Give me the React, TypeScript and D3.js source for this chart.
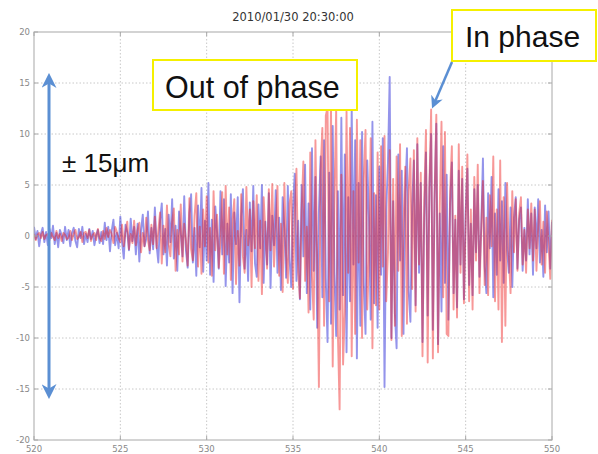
import React from 'react';
import * as d3 from 'd3';

// time axis: samples start at 520 s, one every 0.1 s
const startTime = 520;
const sampleStep = 0.1;

// channel 1 (blue) in 1 s rows
const blueValues = [
  0.9, -0.3, 0.5, -1.0, 0.2, 0.8, -0.6, 0.4, -0.9, 0.7,
  -0.2, 1.0, -0.8, 0.3, -1.1, 0.6, 0.1, -0.7, 0.9, -0.4,
  0.6, -1.0, 0.3, 0.8, -0.5, -1.1, 0.7, -0.2, 0.9, -0.8,
  0.2, -0.6, 0.7, -0.3, 0.5, -0.9, 0.1, 0.6, -0.7, 0.4,
  -0.8, 1.3, -0.4, 0.9, -1.5, 0.5, 1.6, -0.9, 0.3, -1.2,
  1.9, -0.6, -2.2, 1.1, 0.4, -1.4, 1.7, -0.5, 0.9, -1.8,
  1.2, -2.5, 0.6, 2.1, -1.0, -0.3, 2.4, -1.7, 0.8, -1.3,
  2.8, -0.9, -2.6, 1.5, 3.2, -1.8, 0.7, -2.9, 2.1, -0.6,
  3.6, -2.2, 1.0, -3.4, 2.4, 0.3, -2.0, 3.9, -1.4, -3.1,
  2.2, 4.1, -2.6, 0.8, -3.9, 3.0, -1.1, 4.7, -3.5, 1.5,
  -2.4, 5.2, -3.8, 1.6, -4.5, 2.9, 0.4, -3.2, 4.4, -1.8,
  3.6, -4.9, 1.2, -2.6, 4.1, -5.6, 2.3, -0.8, 3.8, -6.5,
  1.9, 4.6, -3.2, 0.6, -4.4, 3.3, -1.5, 4.9, -2.7, -4.0,
  3.1, -1.2, 5.0, -4.6, 1.4, -2.8, 4.2, -5.1, 2.0, -0.9,
  4.5, -3.6, 1.8, -5.3, 3.8, 0.7, -4.1, 4.9, -2.3, -5.0,
  2.6, 6.1, -4.4, 1.5, -6.2, 5.0, -2.0, 7.0, -5.6, 3.2,
  -7.2, 8.6, -3.4, 5.8, -9.0, 2.4, 7.8, -6.0, 9.4, -4.2,
  -10.4, 6.2, -8.6, 10.8, -3.6, -9.8, 4.4, -7.2, 11.6, -5.8,
  8.0, -11.4, 3.8, -6.4, 12.6, -2.8, 9.4, -12.0, 5.2, -8.8,
  10.2, -4.6, -9.6, 7.4, 1.8, -8.2, 11.2, -6.6, 4.0, -9.0,
  6.8, -3.8, 9.6, -14.8, 2.6, 7.2, 15.6, -10.0, 3.4, -7.6,
  -11.0, 8.0, -2.4, 6.4, -9.6, 4.2, 8.6, -5.4, -8.4, 2.8,
  7.4, -6.8, 9.0, -3.6, 5.2, -10.4, 1.8, 8.2, -7.8, 4.6,
  10.0, -9.2, 3.6, 11.0, -10.6, 2.2, -7.4, 8.8, -4.6, 6.0,
  -8.2, 3.2, 7.2, -5.6, 1.6, -7.0, 6.4, -2.8, 5.6, -6.2,
  2.4, 6.6, -4.8, 1.2, -5.8, 4.6, -1.6, 5.0, -4.0, 0.8,
  7.6, -3.0, -5.6, 4.2, -1.2, 5.8, -6.0, 2.2, -3.8, 4.6,
  -2.4, 3.4, -4.6, 5.2, -1.4, -3.6, 2.8, -5.0, 1.8, 3.8,
  -3.2, 1.6, 2.8, -3.4, 0.8, -2.4, 3.6, -1.8, 2.2, -3.8,
  2.8, -1.2, 3.6, -2.6, 0.6, -4.0, 3.0, -1.6, 2.4, -3.2,
  1.4,
];

// channel 2 (red)
const redValues = [
  0.2, -0.4, 0.1, 0.3, -0.2, 0.4, -0.3, 0.1, 0.2, -0.4,
  0.3, -0.1, -0.4, 0.5, -0.2, 0.2, -0.5, 0.3, 0.1, -0.3,
  -0.2, 0.5, -0.4, 0.2, 0.6, -0.3, -0.1, 0.4, -0.6, 0.3,
  0.4, -0.2, 0.6, -0.5, 0.1, 0.3, -0.4, 0.7, -0.2, -0.5,
  0.5, -0.3, 0.8, -0.1, 0.6, 0.2, -0.7, 0.9, 0.4, -0.2,
  -0.6, 1.1, -1.0, 0.4, 1.4, -1.3, 0.2, -0.7, 1.5, -0.9,
  0.6, 1.3, -1.6, 0.3, -1.0, 1.8, -0.4, -1.4, 1.1, -0.8,
  1.9, -1.2, 0.5, 2.3, -2.7, 1.0, -1.6, 3.0, -0.8, -2.0,
  1.4, 2.7, -3.4, 0.6, -1.8, 3.1, -2.5, 1.2, -0.4, -2.9,
  3.7, -1.3, -2.4, 2.0, 4.2, -3.0, 0.9, -3.7, 2.6, -1.0,
  3.9, -2.6, 0.8, -3.9, 4.4, -1.4, 2.1, -3.1, -0.6, 4.3,
  -3.7, 4.9, -1.8, 2.8, -4.3, 1.6, 3.6, -4.7, 0.5, -2.9,
  4.1, -2.0, -3.6, 4.8, -0.9, 2.6, -5.0, 3.4, -1.2, 4.0,
  -4.4, 1.5, -5.7, 3.8, 0.4, -3.2, 4.6, -1.4, 5.1, -3.0,
  0.8, 4.9, -3.9, 1.2, -5.5, 5.2, -1.8, -4.6, 3.2, 4.4,
  -5.2, 1.8, 6.6, -3.6, -6.1, 2.6, 7.3, -4.4, 0.9, -7.5,
  8.2, -4.0, -8.2, 9.4, -2.2, -14.8, 6.4, 10.6, -8.8, 11.8,
  12.6, -6.4, 13.4, -12.8, 4.0, 12.4, -9.6, -17.0, 6.0, -12.6,
  -7.4, 12.2, -3.6, 10.6, -11.8, 4.4, -9.6, 11.4, -2.6, 9.4,
  -10.0, 5.6, 10.4, -7.2, -2.4, 9.6, -11.0, 4.2, -6.8, 8.2,
  -7.2, 8.8, -3.0, 9.8, -6.4, -1.6, 8.4, -10.2, 5.6, -8.8,
  7.8, -3.4, 9.0, -9.8, 1.2, 6.8, -8.6, 4.4, 7.6, -5.2,
  8.4, -7.4, 9.6, -2.8, 6.2, -11.8, 3.4, 10.4, -12.4, 5.0,
  12.4, -12.0, 4.0, 11.9, -11.4, 2.8, 11.2, -6.0, 10.2, -9.6,
  -9.8, 4.4, 8.8, -7.2, 2.0, -8.0, 9.0, -3.6, 6.8, -6.6,
  1.2, 8.0, -6.4, 2.6, -7.2, 5.8, -2.4, 7.0, -5.6, 0.6,
  5.4, -4.8, 1.8, -5.8, 4.0, -1.0, 7.8, -6.4, 2.6, -7.2,
  7.4, -10.4, 3.8, -8.8, 5.2, -2.0, -5.6, 4.4, -1.6, 3.6,
  -3.4, 2.2, 3.8, -2.8, 0.6, -3.6, 2.6, -1.2, 3.2, -2.4,
  2.6, -3.4, 0.8, 3.4, -2.8, 1.4, -3.6, 2.4, -0.8, -4.2,
  1.6,
];

const xTicks = [520, 525, 530, 535, 540, 545, 550];
const yTicks = [-20, -15, -10, -5, 0, 5, 10, 15, 20];
const title = '2010/01/30 20:30:00';

const W = 598;
const H = 454;
const margin = { top: 32, right: 46, bottom: 14, left: 34 };

export default function App() {
  const x = d3.scaleLinear().domain([520, 550]).range([margin.left, W - margin.right]);
  const y = d3.scaleLinear().domain([-20, 20]).range([H - margin.bottom, margin.top]);

  const line = d3.line<number>()
    .x((_, i) => x(startTime + i * sampleStep))
    .y(v => y(v));

  const annoFont = '"Liberation Sans", Arial, sans-serif';
  const axisFont = '"DejaVu Sans", sans-serif';
  const arrowBlue = '#5b8fd3';

  return (
    <svg width={W} height={H} style={{ position: 'absolute', left: 0, top: 0, background: '#fff' }}>
      <defs>
        <clipPath id="plotClip">
          <rect x={margin.left} y={margin.top} width={x(550) - x(520)} height={y(-20) - y(20)} />
        </clipPath>
        <marker id="arrHead" viewBox="0 0 10 10" refX="6" refY="5" markerWidth="5" markerHeight="5" orient="auto-start-reverse">
          <path d="M0,0 L10,5 L0,10 L3,5 Z" fill={arrowBlue} />
        </marker>
      </defs>

      {/* title */}
      <text x={(x(520) + x(550)) / 2} y={21} textAnchor="middle" fontSize={11.5}
        fontFamily={axisFont} fill="#333">{title}</text>

      {/* grid */}
      {xTicks.slice(1, -1).map(t => (
        <line key={'gx' + t} x1={x(t)} x2={x(t)} y1={y(20)} y2={y(-20)}
          stroke="#c8c8c8" strokeDasharray="1.5,2" />
      ))}
      {yTicks.slice(1, -1).map(t => (
        <line key={'gy' + t} x1={x(520)} x2={x(550)} y1={y(t)} y2={y(t)}
          stroke="#c8c8c8" strokeDasharray="1.5,2" />
      ))}

      {/* signals */}
      <g clipPath="url(#plotClip)" fill="none" strokeLinejoin="round">
        <path d={line(blueValues) || ''} stroke="#2a2ad8" strokeOpacity={0.5} strokeWidth={1.9} />
        <path d={line(redValues) || ''} stroke="#ee1a1a" strokeOpacity={0.45} strokeWidth={1.9} />
      </g>

      {/* box + ticks */}
      <rect x={x(520)} y={y(20)} width={x(550) - x(520)} height={y(-20) - y(20)}
        fill="none" stroke="#a8a8a8" />
      {xTicks.map(t => (
        <g key={'tx' + t}>
          <line x1={x(t)} x2={x(t)} y1={y(-20)} y2={y(-20) - 4} stroke="#a8a8a8" />
          <line x1={x(t)} x2={x(t)} y1={y(20)} y2={y(20) + 4} stroke="#a8a8a8" />
          <text x={x(t)} y={y(-20) + 12} textAnchor="middle" fontSize={8.5}
            fontFamily={axisFont} fill="#888">{t}</text>
        </g>
      ))}
      {yTicks.map(t => (
        <g key={'ty' + t}>
          <line x1={x(520)} x2={x(520) + 4} y1={y(t)} y2={y(t)} stroke="#a8a8a8" />
          <line x1={x(550)} x2={x(550) - 4} y1={y(t)} y2={y(t)} stroke="#a8a8a8" />
          <text x={x(520) - 4} y={y(t) + 3} textAnchor="end" fontSize={8.5}
            fontFamily={axisFont} fill="#888">{t}</text>
        </g>
      ))}

      {/* ± 15 µm arrow */}
      <line x1={49} x2={49} y1={y(15.4)} y2={y(-15.4)} stroke={arrowBlue} strokeWidth={3}
        markerStart="url(#arrHead)" markerEnd="url(#arrHead)" />
      <text x={62} y={172} fontSize={26} fontFamily={annoFont} fill="#111">± 15μm</text>

      {/* Out of phase */}
      <rect x={153} y={60} width={204} height={50} fill="#fff" stroke="#f5f000" strokeWidth={2} />
      <text x={165} y={98} fontSize={30.5} fontFamily={annoFont} fill="#111">Out of phase</text>

      {/* In phase */}
      <rect x={452} y={10} width={144} height={51} fill="#fff" stroke="#f5f000" strokeWidth={2} />
      <text x={465} y={47} fontSize={30} fontFamily={annoFont} fill="#111">In phase</text>
      <line x1={452} y1={62} x2={434} y2={104} stroke={arrowBlue} strokeWidth={2.5}
        markerEnd="url(#arrHead)" />
    </svg>
  );
}
